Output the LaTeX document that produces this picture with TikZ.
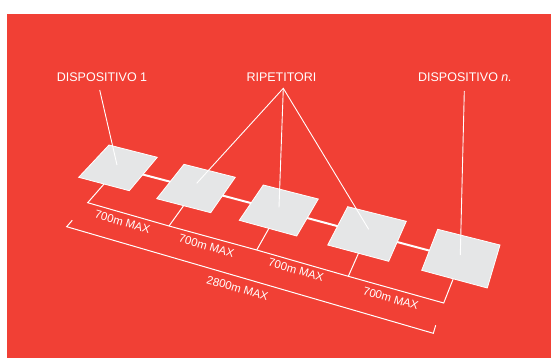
\documentclass[tikz,border=0pt]{standalone}
\usepackage{fontspec}
\setmainfont{Liberation Sans}
\definecolor{bgred}{HTML}{F14035}
\definecolor{devgray}{HTML}{E5E6E7}
\tikzset{
    wire/.style={white,line width=2pt},
    thinwire/.style={white,line width=1pt},
    lead/.style={white,line width=.9pt},
    device/.style={fill=devgray,draw=white,line width=.8pt,line join=miter},
    toplabel/.style={white,font=\fontsize{12.5}{14}\selectfont,inner sep=0pt},
    dist/.style={white,font=\fontsize{11.5}{13}\selectfont,inner sep=0pt,rotate=-16}
}
\begin{document}
\begin{tikzpicture}[x=1pt,y=-1pt]
    \useasboundingbox (0,0) rectangle (551,358);
    \fill[bgred] (7,14) rectangle (551,358);
    %centres of the devices
    \coordinate (devA) at (118,168);
    \coordinate (devB) at (196,188.5);
    \coordinate (devC) at (279,210.5);
    \coordinate (devD) at (367,234);
    \coordinate (devE) at (461,259);
    %foot points on the inner bracket
    \coordinate (footA) at (87.7,202.7);
    \coordinate (footB) at (169,226);
    \coordinate (footC) at (256.7,250);
    \coordinate (footD) at (348.3,276.3);
    \coordinate (footE) at (443.7,303);
    \draw[wire] (devA) -- (devB) -- (devC) -- (devD) -- (devE);
    \draw[thinwire] (devA) -- (footA) -- (footB) -- (footC) -- (footD) -- (footE) -- (devE);
    \draw[thinwire] (footB) -- (devB);
    \draw[thinwire] (footC) -- (devC);
    \draw[thinwire] (footD) -- (devD);
    \draw[thinwire] (72.3,220.3) -- (66.7,226.7) -- (433.3,333.3) -- (435.7,325.3);
    \draw[device] (109,145) -- (157.3,157.3) -- (129.3,190.7) -- (78.7,177.3) -- cycle;
    \draw[device] (184,164.3) -- (235.3,177.3) -- (210.7,212.7) -- (156.7,198.7) -- cycle;
    \draw[device] (263.3,185) -- (318.3,199) -- (296.7,236) -- (239.3,220.3) -- cycle;
    \draw[device] (347.7,206.7) -- (406.3,221.3) -- (388.7,261.3) -- (327.7,245) -- cycle;
    \draw[device] (437.7,229.3) -- (500,245) -- (487.3,288) -- (421.7,270.3) -- cycle;
    %labels and leaders
    \node[toplabel] (first) at (102,77) {DISPOSITIVO 1};
    \node[toplabel] (repeaters) at (281.5,77) {RIPETITORI};
    \node[toplabel] (last) at (465,77) {DISPOSITIVO \textit{n.}};
    \coordinate (apex) at (283.3,88.3);
    \coordinate (tipA) at (117,165);
    \coordinate (tipB) at (196.7,183.3);
    \coordinate (tipC) at (279,207.3);
    \coordinate (tipD) at (368.7,229.3);
    \coordinate (tipE) at (460.3,255);
    \draw[lead] (99.7,90) -- (tipA);
    \draw[lead] (tipB) -- (apex) -- (tipD);
    \draw[lead] (apex) -- (tipC);
    \draw[lead] (464.3,91) -- (tipE);
    \node[dist] (spanA) at (122.5,222) {700m MAX};
    \node[dist] (spanB) at (206.5,246) {700m MAX};
    \node[dist] (spanC) at (296,270) {700m MAX};
    \node[dist] (spanD) at (390.8,298.3) {700m MAX};
    \node[dist] (total) at (237.5,288.2) {2800m MAX};
\end{tikzpicture}
\end{document}
